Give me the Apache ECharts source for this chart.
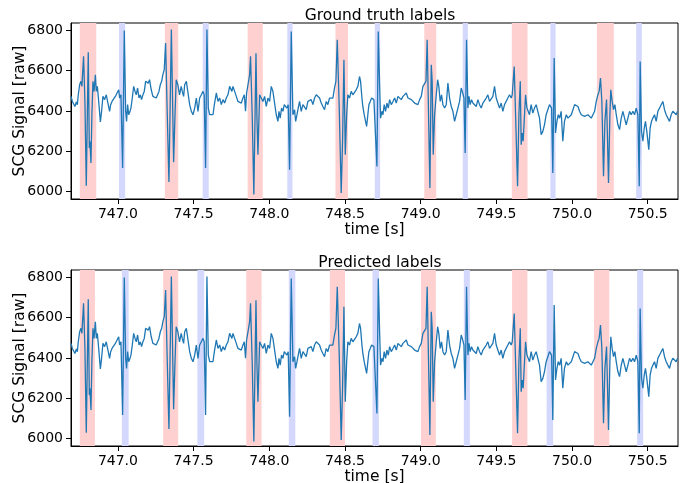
<!DOCTYPE html>
<html>
<head>
<meta charset="utf-8">
<script src="https://cdn.jsdelivr.net/npm/echarts@6/dist/echarts.min.js"></script>
<style>
  html, body { margin: 0; padding: 0; background: #fff; }
  #chart { width: 691px; height: 483px; }
</style>
</head>
<body>
<div id="chart"></div>
<script>
// SCG signal, time [s] and raw value
const sigT = [
  746.690, 746.699, 746.707, 746.716, 746.725, 746.732, 746.738, 746.747, 746.756, 746.762,
  746.773, 746.782, 746.791, 746.804, 746.811, 746.815, 746.822, 746.828, 746.835, 746.842,
  746.851, 746.857, 746.864, 746.873, 746.884, 746.892, 746.901, 746.912, 746.923, 746.934,
  746.945, 746.952, 746.961, 746.972, 746.983, 746.994, 747.005, 747.011, 747.020, 747.031,
  747.042, 747.051, 747.057, 747.064, 747.071, 747.080, 747.086, 747.095, 747.104, 747.113,
  747.121, 747.130, 747.139, 747.148, 747.156, 747.165, 747.174, 747.183, 747.192, 747.200,
  747.209, 747.220, 747.231, 747.242, 747.253, 747.262, 747.271, 747.280, 747.289, 747.297,
  747.306, 747.315, 747.326, 747.337, 747.353, 747.368, 747.377, 747.385, 747.396, 747.407,
  747.418, 747.425, 747.434, 747.441, 747.452, 747.463, 747.474, 747.485, 747.496, 747.507,
  747.518, 747.529, 747.540, 747.551, 747.562, 747.570, 747.579, 747.588, 747.597, 747.606,
  747.617, 747.628, 747.637, 747.650, 747.661, 747.672, 747.683, 747.694, 747.705, 747.716,
  747.727, 747.738, 747.744, 747.753, 747.760, 747.771, 747.782, 747.793, 747.804, 747.815,
  747.826, 747.835, 747.843, 747.850, 747.857, 747.863, 747.870, 747.876, 747.887, 747.898,
  747.905, 747.912, 747.918, 747.925, 747.936, 747.947, 747.958, 747.969, 747.980, 747.991,
  748.002, 748.013, 748.024, 748.035, 748.046, 748.057, 748.064, 748.072, 748.081, 748.090,
  748.099, 748.108, 748.116, 748.125, 748.134, 748.145, 748.156, 748.167, 748.174, 748.183,
  748.191, 748.200, 748.211, 748.222, 748.233, 748.244, 748.255, 748.266, 748.277, 748.288,
  748.299, 748.310, 748.321, 748.332, 748.343, 748.354, 748.365, 748.376, 748.387, 748.398,
  748.409, 748.420, 748.431, 748.440, 748.449, 748.462, 748.475, 748.484, 748.493, 748.502,
  748.511, 748.519, 748.530, 748.541, 748.552, 748.563, 748.574, 748.585,
  748.596, 748.603, 748.612, 748.618, 748.627, 748.636, 748.643, 748.651, 748.658, 748.667,
  748.676, 748.684, 748.691, 748.702, 748.711, 748.720, 748.729, 748.735, 748.744, 748.751,
  748.759, 748.768, 748.777, 748.786, 748.795, 748.806, 748.817, 748.828, 748.839, 748.850,
  748.861, 748.872, 748.883, 748.894, 748.905, 748.916, 748.927, 748.938, 748.949, 748.960,
  748.971, 748.982, 748.993, 749.004, 749.015, 749.021, 749.035, 749.043, 749.052, 749.061,
  749.070, 749.076, 749.083, 749.092, 749.103, 749.112, 749.120, 749.129, 749.138, 749.147,
  749.158, 749.169, 749.180, 749.191, 749.202, 749.213, 749.224, 749.235, 749.246, 749.257,
  749.268, 749.275, 749.286, 749.294, 749.303, 749.312, 749.319, 749.327, 749.336, 749.345,
  749.356, 749.367, 749.378, 749.389, 749.400, 749.411, 749.422, 749.433, 749.444, 749.455,
  749.466, 749.477, 749.488, 749.499, 749.510, 749.521, 749.532, 749.543, 749.554, 749.565,
  749.576,
  749.587, 749.598, 749.605, 749.611, 749.618, 749.627, 749.640, 749.649, 749.658, 749.664,
  749.671, 749.677, 749.686, 749.693, 749.702, 749.710, 749.719, 749.730, 749.741, 749.752,
  749.763, 749.774, 749.785, 749.796, 749.807, 749.818, 749.829, 749.840, 749.851, 749.865,
  749.873, 749.882, 749.891, 749.900, 749.909, 749.918, 749.928, 749.939, 749.950, 749.962,
  749.973, 749.984, 749.995, 750.006, 750.017, 750.028, 750.039, 750.050, 750.061, 750.072,
  750.083, 750.094, 750.105, 750.116, 750.127, 750.138, 750.149, 750.160, 750.171, 750.179,
  750.188, 750.197, 750.208, 750.217, 750.228, 750.241, 750.250, 750.256, 750.265, 750.274,
  750.283, 750.292, 750.303, 750.314, 750.325, 750.336, 750.347, 750.358, 750.369, 750.380,
  750.391, 750.402, 750.413, 750.424, 750.435, 750.444, 750.450, 750.459, 750.468, 750.477,
  750.485, 750.494, 750.507, 750.516, 750.525, 750.534, 750.545, 750.556, 750.567, 750.578,
  750.589, 750.600, 750.611, 750.622, 750.633, 750.644, 750.655, 750.666, 750.677, 750.688,
  750.697
];
const sigV = [
  6472, 6447, 6456, 6422, 6444, 6431, 6480, 6530, 6547, 6522,
  6671, 6447, 6028, 6692, 6215, 6249, 6141, 6381, 6547, 6497,
  6580, 6497, 6522, 6447, 6345, 6398, 6472, 6456, 6480, 6439,
  6398, 6431, 6447, 6439, 6472, 6480, 6505, 6464, 6480, 6116,
  6800, 6398, 6348, 6431, 6381, 6398, 6414, 6464, 6522, 6497,
  6480, 6514, 6464, 6480, 6456, 6480, 6497, 6547, 6555, 6538,
  6555, 6505, 6472, 6480, 6464, 6480, 6497, 6530, 6547, 6580,
  6605, 6737, 6381, 6046, 6805, 6145, 6381, 6555, 6530, 6480,
  6522, 6497, 6472, 6530, 6547, 6489, 6431, 6398, 6381, 6414,
  6464, 6398, 6464, 6480, 6497, 6480, 6116, 6805, 6414, 6381,
  6373, 6381, 6431, 6489, 6447, 6464, 6431, 6456, 6439, 6464,
  6480, 6522, 6530, 6497, 6522, 6497, 6472, 6447, 6456, 6439,
  6464, 6480, 6398, 6489, 6480, 6547, 6580, 6671, 6381, 5984,
  6331, 6687, 6381, 6182, 6480, 6489, 6447, 6472, 6422, 6464,
  6447, 6522, 6497, 6439, 6381, 6348, 6398, 6364, 6414, 6398,
  6431, 6439, 6414, 6431, 6108, 6795, 6381, 6406, 6348, 6381,
  6414, 6447, 6398, 6431, 6439, 6406, 6447, 6439, 6456, 6431,
  6464, 6480, 6489, 6464, 6439, 6422, 6406, 6447, 6431, 6464,
  6456, 6464, 6514, 6547, 6754, 6414, 5992, 6249, 6654, 6182,
  6381, 6480, 6464, 6497, 6480, 6480, 6505, 6522,
  6571, 6547, 6464, 6422, 6381, 6348, 6323, 6381, 6431, 6447,
  6464, 6472, 6456, 6447, 6124, 6795, 6522, 6364, 6398, 6381,
  6431, 6398, 6439, 6414, 6456, 6431, 6447, 6464, 6439, 6472,
  6480, 6456, 6472, 6480, 6489, 6464, 6472, 6456, 6464, 6439,
  6447, 6431, 6456, 6472, 6522, 6530, 6547, 6754, 6381, 6017,
  6629, 6547, 6182, 6381, 6480, 6555, 6522, 6447, 6480, 6431,
  6414, 6431, 6538, 6464, 6422, 6398, 6348, 6381, 6414, 6447,
  6514, 6497, 6464, 6191, 6754, 6414, 6472, 6431, 6456, 6439,
  6447, 6422, 6456, 6431, 6414, 6439, 6431, 6464, 6480, 6447,
  6456, 6472, 6522, 6464, 6439, 6414, 6439, 6398, 6431, 6422,
  6464,
  6480, 6464, 6480, 6547, 6621, 6381, 6025, 6381, 6547, 6232,
  6290, 6249, 6381, 6480, 6414, 6422, 6381, 6431, 6389, 6414,
  6431, 6398, 6364, 6282, 6298, 6331, 6381, 6406, 6431, 6414,
  6091, 6663, 6290, 6348, 6381, 6364, 6398, 6249, 6348, 6381,
  6364, 6356, 6381, 6406, 6431, 6439, 6422, 6398, 6381, 6389,
  6373, 6364, 6381, 6389, 6364, 6381, 6398, 6447, 6480, 6497,
  6563, 6447, 6075, 6348, 6456, 6042, 6381, 6505, 6447, 6406,
  6431, 6381, 6331, 6307, 6364, 6398, 6364, 6331, 6364, 6398,
  6381, 6398, 6381, 6414, 6381, 6025, 6646, 6298, 6249, 6315,
  6348, 6298, 6207, 6315, 6348, 6364, 6381, 6348, 6398, 6414,
  6422, 6447, 6406, 6381, 6364, 6348, 6381, 6398, 6406, 6381,
  6398
];

// label spans [start, end] in seconds
const truthRed = [[746.748, 746.857], [747.310, 747.398], [747.857, 747.957], [748.437, 748.520],
  [749.024, 749.103], [749.602, 749.706], [750.164, 750.276]];
const truthBlue = [[747.007, 747.048], [747.560, 747.600], [748.119, 748.153], [748.697, 748.732],
  [749.278, 749.312], [749.857, 749.891], [750.424, 750.461]];
const predRed = [[746.748, 746.848], [747.299, 747.398], [747.848, 747.949], [748.400, 748.500],
  [749.002, 749.100], [749.604, 749.705], [750.145, 750.246]];
const predBlue = [[747.026, 747.071], [747.525, 747.570], [748.129, 748.172], [748.682, 748.724],
  [749.285, 749.325], [749.832, 749.875], [750.430, 750.470]];

const xTicks = [747.0, 747.5, 748.0, 748.5, 749.0, 749.5, 750.0, 750.5];
const yTicks = [6000, 6200, 6400, 6600, 6800];
const titles = ['Ground truth labels', 'Predicted labels'];

const chart = echarts.init(document.getElementById('chart'));
const signal = sigT.map((t, i) => [t, sigV[i]]);
const font = 'DejaVu Sans';

const bands = (red, blue) => [
  ...red.map(b => [{ xAxis: b[0], itemStyle: { color: '#ffd0d0' } }, { xAxis: b[1] }]),
  ...blue.map(b => [{ xAxis: b[0], itemStyle: { color: '#d4d8fd' } }, { xAxis: b[1] }])
];

const xAxisOf = i => ({
  type: 'value', gridIndex: i, min: 746.69, max: 750.70,
  name: 'time [s]', nameLocation: 'middle', nameGap: 23, nameMoveOverlap: false,
  nameTextStyle: { fontFamily: font, fontSize: 15.5, color: '#000' },
  axisLine: { show: true, onZero: false, lineStyle: { color: '#000', width: 1 } },
  axisTick: { show: true, length: 5, customValues: xTicks, lineStyle: { color: '#000' } },
  axisLabel: { customValues: xTicks, formatter: v => v.toFixed(1), fontFamily: font, fontSize: 14, color: '#000', margin: 8 },
  splitLine: { show: false }
});
const yAxisOf = i => ({
  type: 'value', gridIndex: i, min: 5962, max: 6837,
  name: 'SCG Signal [raw]', nameLocation: 'middle', nameGap: 43, nameMoveOverlap: false,
  nameTextStyle: { fontFamily: font, fontSize: 15.5, color: '#000' },
  axisLine: { show: true, lineStyle: { color: '#000', width: 1 } },
  axisTick: { show: true, length: 5, customValues: yTicks, lineStyle: { color: '#000' } },
  axisLabel: { customValues: yTicks, formatter: v => String(v), fontFamily: font, fontSize: 14, color: '#000', margin: 8 },
  splitLine: { show: false }
});

const gridOf = top => ({
  left: 71, top, width: 607, height: 176, containLabel: false, outerBoundsMode: 'none',
  show: true, borderColor: '#000', borderWidth: 1, backgroundColor: 'transparent'
});

const option = {
  animation: false,
  backgroundColor: '#fff',
  title: titles.map((t, i) => ({
    text: t, left: 375, top: i === 0 ? 3 : 250, textAlign: 'center',
    textStyle: { fontFamily: font, fontSize: 15.5, fontWeight: 'normal', color: '#000' }
  })),
  grid: [gridOf(23), gridOf(270)],
  xAxis: [xAxisOf(0), xAxisOf(1)],
  yAxis: [yAxisOf(0), yAxisOf(1)],
  series: [[truthRed, truthBlue], [predRed, predBlue]].map((lab, i) => ({
    type: 'line', xAxisIndex: i, yAxisIndex: i, data: signal,
    showSymbol: false, symbol: 'none', sampling: null,
    lineStyle: { color: '#1f77b4', width: 1.3 },
    markArea: { silent: true, data: bands(lab[0], lab[1]) }
  }))
};
chart.setOption(option);
</script>
</body>
</html>
